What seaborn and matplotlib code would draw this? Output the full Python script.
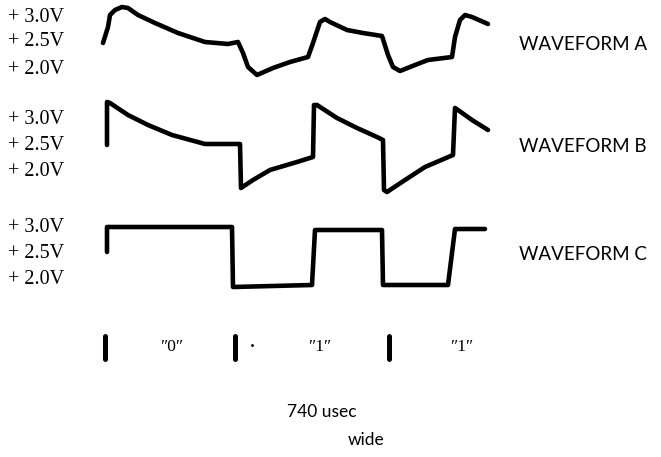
import matplotlib
matplotlib.use("Agg")
import matplotlib.pyplot as plt
import pandas as pd
import seaborn as sns

# traced waveform points, in picture units (x to the right, y downwards)
WAVE_A_X = [103, 108, 110, 115, 122, 128, 138, 155, 178, 205, 228, 238, 243, 248, 257, 273,
            290, 308, 313, 320, 325, 330, 347, 363, 382, 388, 393, 400, 415, 428, 452, 455,
            460, 465, 472, 488]
WAVE_A_Y = [43, 27, 15, 10, 7, 8, 15, 23, 33, 42, 44, 42, 53, 67, 75, 68,
            62, 57, 43, 22, 19, 22, 30, 33, 36, 55, 67, 71, 65, 60, 57, 37,
            20, 15, 17, 24]

WAVE_B_X = [107, 107, 110, 128, 148, 172, 205, 240, 241, 253, 270, 297, 313, 314, 317, 337,
            357, 377, 383, 384, 387, 402, 425, 453, 455, 458, 472, 488]
WAVE_B_Y = [145, 102, 103, 115, 125, 135, 144, 144, 188, 180, 170, 162, 157, 105, 105, 118,
            128, 137, 140, 190, 192, 182, 167, 155, 108, 110, 120, 130]

WAVE_C_X = [107, 107, 232, 233, 312, 315, 382, 383, 448, 455, 485]
WAVE_C_Y = [252, 227, 227, 287, 285, 230, 230, 285, 285, 229, 229]

WAVE_NAMES = ["WAVEFORM A", "WAVEFORM B", "WAVEFORM C"]
NAME_Y = [44, 146, 254]

VOLT_LABELS = ["+ 3.0V", "+ 2.5V", "+ 2.0V"]
VOLT_Y = [[17, 42, 69], [119, 145, 172], [227, 253, 280]]

MARK_X = [105, 235, 389]
BIT_LABELS = ["\u20330\u2033", "\u20331\u2033", "\u20331\u2033"]
BIT_X = [172, 320, 462]

rows = []
for name, xs, ys in zip(WAVE_NAMES, [WAVE_A_X, WAVE_B_X, WAVE_C_X], [WAVE_A_Y, WAVE_B_Y, WAVE_C_Y]):
    for i, (x, y) in enumerate(zip(xs, ys)):
        rows.append({"wave": name, "order": i, "x": x, "y": y})
waves = pd.DataFrame(rows)

sns.set_theme(style="white")
plt.rcParams["font.family"] = ["Lato", "DejaVu Sans"]

fig = plt.figure(figsize=(6.61, 4.57), dpi=100)
ax = fig.add_axes([0, 0, 1, 1])

sns.lineplot(data=waves, x="x", y="y", units="wave", estimator=None, sort=False,
             color="black", linewidth=3.3, solid_joinstyle="round", solid_capstyle="round", ax=ax)

for name, y in zip(WAVE_NAMES, NAME_Y):
    ax.text(519, y, name, fontsize=13.5, va="center", ha="left", color="black")

for ys in VOLT_Y:
    for label, y in zip(VOLT_LABELS, ys):
        ax.text(8, y, label, fontsize=14.5, va="center", ha="left", color="black",
                family=["Liberation Serif", "DejaVu Serif"])

for x in MARK_X:
    ax.plot([x, x], [336, 359], color="black", linewidth=3.6, solid_capstyle="round")
ax.plot([252], [345], marker=".", markersize=2, color="black")

for label, x in zip(BIT_LABELS, BIT_X):
    ax.text(x, 347, label, fontsize=12.5, va="center", ha="center", color="black",
            family=["Liberation Serif", "DejaVu Serif"])

ax.text(287, 412, "740 usec", fontsize=12.5, va="center", ha="left", color="black")
ax.text(348, 440, "wide", fontsize=12.5, va="center", ha="left", color="black")

ax.set_xlim(0, 661)
ax.set_ylim(457, 0)
ax.set_axis_off()
ax.set_xlabel("")
ax.set_ylabel("")

fig.savefig("out.png", dpi=100)
